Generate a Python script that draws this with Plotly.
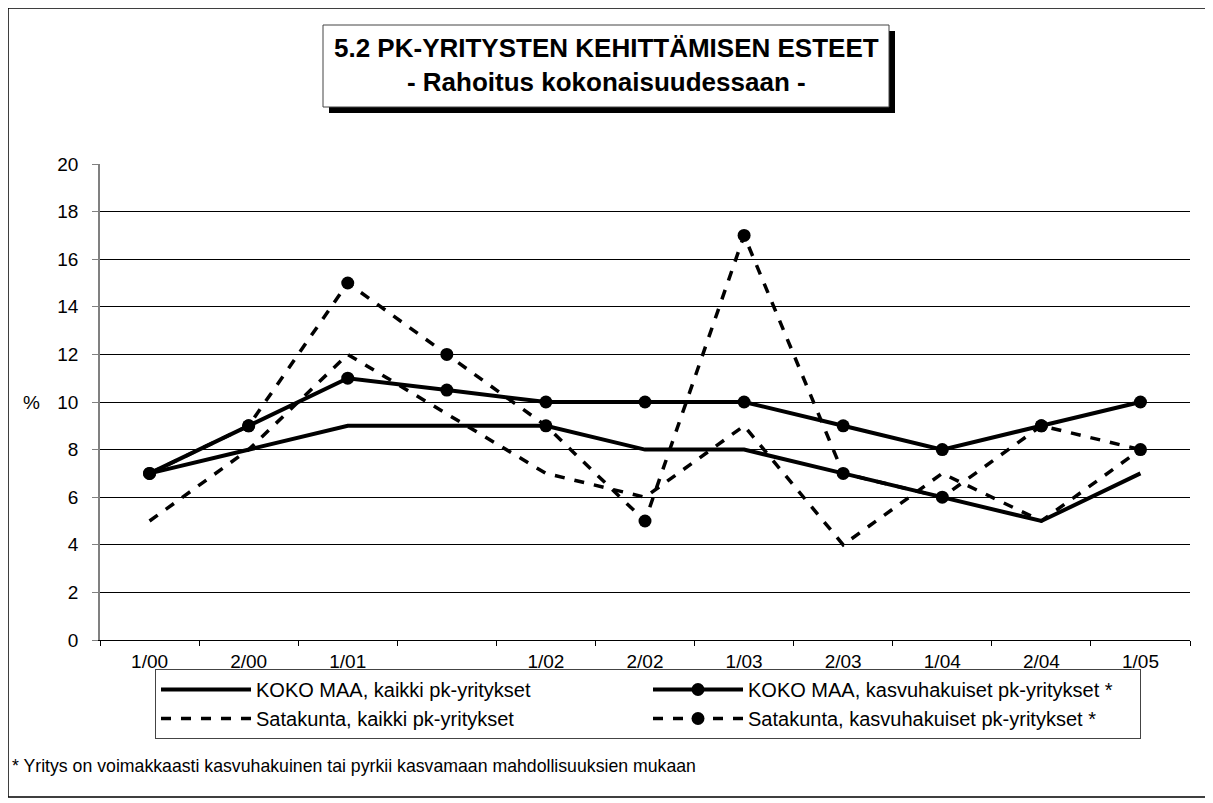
import plotly.graph_objects as go

# ---- data ----
categories = ["1/00", "2/00", "1/01", " ", "1/02", "2/02", "1/03", "2/03", "1/04", "2/04", "1/05"]
koko_kaikki = [7, 8, 9, 9, 9, 8, 8, 7, 6, 5, 7]
koko_kasvu = [7, 9, 11, 10.5, 10, 10, 10, 9, 8, 9, 10]
sata_kaikki = [5, 8, 12, 9.5, 7, 6, 9, 4, 7, 5, 8]
sata_kasvu = [7, 9, 15, 12, 9, 5, 17, 7, 6, 9, 8]
series_names = [
    "KOKO MAA, kaikki pk-yritykset",
    "KOKO MAA, kasvuhakuiset pk-yritykset *",
    "Satakunta, kaikki pk-yritykset",
    "Satakunta, kasvuhakuiset pk-yritykset *",
]
y_ticks = [0, 2, 4, 6, 8, 10, 12, 14, 16, 18, 20]
title_lines = ["5.2 PK-YRITYSTEN KEHITTÄMISEN ESTEET", "- Rahoitus kokonaisuudessaan -"]
footnote = "* Yritys on voimakkaasti kasvuhakuinen tai pyrkii kasvamaan mahdollisuuksien mukaan"

FONT = "Liberation Sans, Arial, sans-serif"
OFF = 8  # default page body margin
W, H = 1213 - OFF, 803 - OFF
# target plot area in window pixels: x 100..1190, y 164..640
L, R = 100 - OFF, W - (1190 - OFF)
T, B = 164 - OFF, H - (640 - OFF)
PW, PH = W - L - R, H - T - B


def px(x):
    return (x - OFF - L) / PW


def py(y):
    return (H - B - (y - OFF)) / PH


fig = go.Figure()
fig.add_trace(go.Scatter(x=categories, y=koko_kaikki, name=series_names[0], mode="lines",
                         line=dict(color="black", width=4)))
fig.add_trace(go.Scatter(x=categories, y=koko_kasvu, name=series_names[1], mode="lines+markers",
                         line=dict(color="black", width=4),
                         marker=dict(symbol="circle", size=13, color="black")))
fig.add_trace(go.Scatter(x=categories, y=sata_kaikki, name=series_names[2], mode="lines",
                         line=dict(color="black", width=3.5, dash="10px,10px")))
fig.add_trace(go.Scatter(x=categories, y=sata_kasvu, name=series_names[3], mode="lines+markers",
                         line=dict(color="black", width=3.5, dash="10px,10px"),
                         marker=dict(symbol="circle", size=13, color="black")))

shapes = [
    # outer chart border
    dict(type="rect", xref="paper", yref="paper", x0=px(8), x1=px(1208), y0=py(8), y1=py(797),
         line=dict(color="black", width=1.5), fillcolor="rgba(0,0,0,0)", layer="below"),
    # title shadow
    dict(type="rect", xref="paper", yref="paper", x0=px(329), x1=px(895), y0=py(31), y1=py(113),
         line=dict(width=0), fillcolor="black"),
    # title box
    dict(type="rect", xref="paper", yref="paper", x0=px(323), x1=px(889), y0=py(25), y1=py(107),
         line=dict(color="#444", width=1), fillcolor="white"),
]

annotations = [
    dict(xref="paper", yref="paper", x=px(606), y=py(65), xanchor="center", yanchor="middle",
         text="<b>" + title_lines[0] + "</b><br><b>" + title_lines[1] + "</b>",
         showarrow=False, font=dict(family=FONT, size=26, color="black"), align="center"),
    dict(xref="paper", yref="y", x=px(31), y=10, xanchor="center", yanchor="middle",
         text="%", showarrow=False, font=dict(family=FONT, size=19, color="black")),
    dict(xref="paper", yref="paper", x=px(10), y=py(766), xanchor="left", yanchor="middle",
         text=footnote, showarrow=False, font=dict(family=FONT, size=17.7, color="black")),
]

fig.update_layout(
    width=W, height=H,
    margin=dict(l=L, r=R, t=T, b=B),
    paper_bgcolor="white", plot_bgcolor="white",
    font=dict(family=FONT, size=19, color="black"),
    shapes=shapes, annotations=annotations,
    showlegend=True,
    legend=dict(orientation="h", x=px(155), y=py(669), xanchor="left", yanchor="top",
                entrywidth=387, entrywidthmode="pixels",
                bordercolor="#444", borderwidth=1, bgcolor="white",
                font=dict(family=FONT, size=20, color="black"),
                itemwidth=90, tracegroupgap=0),
    xaxis=dict(type="category", categoryorder="array", categoryarray=categories,
               range=[-0.5, len(categories) - 0.5],
               showgrid=False, showline=True, linecolor="black", linewidth=1,
               ticks="outside", ticklen=5, tickcolor="black", tickson="boundaries",
               ticklabelstandoff=4,
               tickfont=dict(family=FONT, size=19, color="black"), fixedrange=True),
    yaxis=dict(range=[0, 20], tickvals=y_ticks, showgrid=True, gridcolor="black", gridwidth=1,
               showline=True, linecolor="#808080", linewidth=1.5,
               ticks="outside", ticklen=6, tickcolor="#808080", ticklabelstandoff=10,
               tickfont=dict(family=FONT, size=19, color="black"),
               zeroline=False, fixedrange=True),
)

fig.write_html("out.html")
